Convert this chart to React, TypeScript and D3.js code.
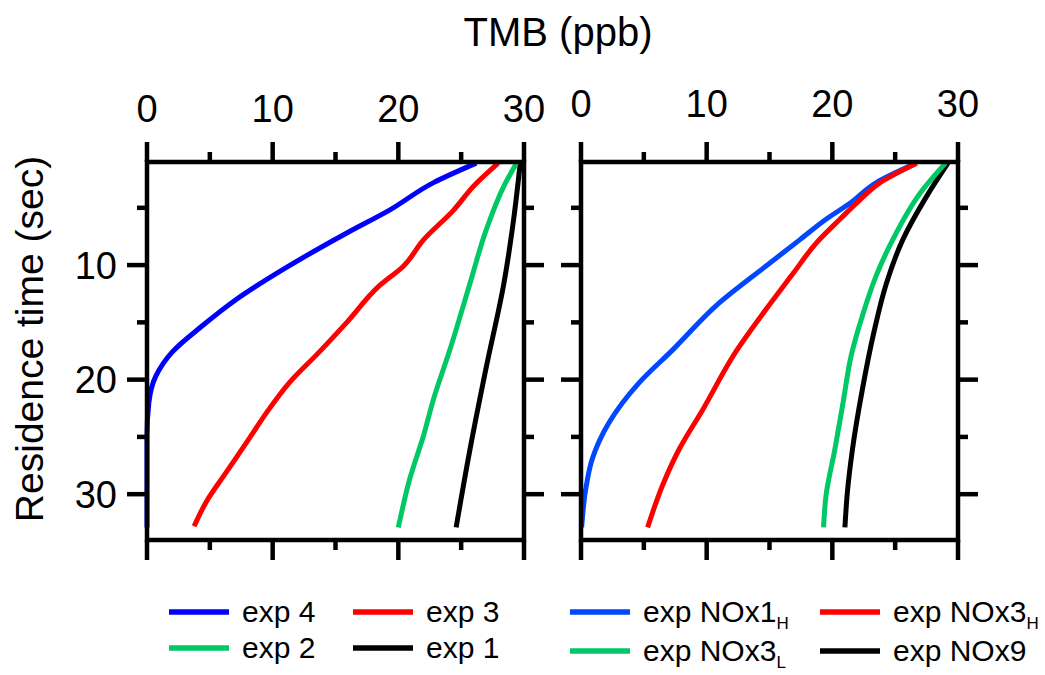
import * as d3 from 'd3';

// TMB (ppb) vs residence time (sec)
type Pt = [number, number];

const leftNames = ['exp 4', 'exp 3', 'exp 2', 'exp 1'];
const leftColors = ['#0000ff', '#ff0000', '#00c864', '#000000'];
const exp4: Pt[] = [[26.2, 1.1], [22.8, 2.8], [19.3, 5.2], [15.9, 7.2], [10.8, 10.4], [7.1, 13.0], [4.4, 15.3], [2.0, 17.6], [0.7, 19.7], [0.15, 22.0], [0, 24.9], [0, 32.9]];
const exp3: Pt[] = [[27.95, 1.1], [26.0, 3.1], [24.4, 5.2], [22.0, 7.8], [20.4, 10.1], [18.5, 11.8], [15.9, 15.0], [13.7, 17.6], [11.3, 20.3], [9.5, 22.9], [8.1, 25.2], [6.3, 28.1], [4.7, 30.7], [3.75, 32.8]];
const exp2: Pt[] = [[29.4, 1.1], [28.4, 3.1], [27.0, 6.9], [25.7, 11.6], [24.1, 17.4], [22.8, 21.7], [22.0, 24.9], [20.9, 28.7], [20.0, 32.9]];
const exp1: Pt[] = [[29.7, 1.1], [29.2, 5.8], [28.4, 11.6], [27.0, 18.9], [25.7, 26.1], [24.6, 32.9]];

const rightNames = ['exp NOx1', 'exp NOx3', 'exp NOx3', 'exp NOx9'];
const rightSubs = ['H', 'H', 'L', ''];
const rightColors = ['#0047ff', '#ff0000', '#00c864', '#000000'];
const nox1H: Pt[] = [[26.7, 1.1], [23.5, 2.8], [21.4, 4.6], [19.5, 6.0], [17.4, 7.8], [14.7, 10.1], [11.0, 13.3], [7.3, 17.4], [4.6, 20.3], [2.2, 23.8], [0.9, 26.9], [0.37, 29.6], [0.05, 32.9]];
const nox3H: Pt[] = [[26.7, 1.1], [23.8, 2.8], [22.2, 4.3], [20.6, 6.0], [18.7, 8.1], [16.9, 10.7], [14.7, 13.9], [12.3, 17.6], [9.7, 22.6], [7.8, 26.1], [6.5, 29.2], [5.3, 32.9]];
const nox3L: Pt[] = [[29.0, 1.1], [27.0, 3.7], [24.8, 7.8], [23.5, 10.9], [22.4, 14.4], [21.5, 17.9], [20.9, 21.7], [20.2, 26.1], [19.5, 30.1], [19.3, 32.9]];
const nox9: Pt[] = [[29.2, 1.1], [27.5, 4.0], [25.6, 7.8], [24.3, 11.6], [23.3, 15.9], [22.4, 20.8], [21.6, 26.1], [21.2, 29.8], [21.0, 32.9]];

const xMajor = [0, 10, 20, 30];
const xMinor = [5, 15, 25];
const yMajor = [10, 20, 30];
const yMinor = [5, 15, 25];

const W = 1045;
const H = 675;
const FONT = '"Liberation Sans", Arial, sans-serif';
const top = 162, bottom = 540;
const MAJ = 20, MIN = 10;

const y = d3.scaleLinear().domain([1, 34]).range([top, bottom]);

function Panel({ x0, x1, series, colors, order, labelY, yLabels }: {
  x0: number; x1: number; series: Pt[][]; colors: string[]; order: number[]; labelY: number; yLabels: boolean;
}) {
  const x = d3.scaleLinear().domain([0, 30]).range([x0, x1]);
  const line = d3.line<Pt>().x(d => x(d[0])).y(d => y(d[1])).curve(d3.curveMonotoneY);
  const sw = 4.5;
  return (
    <g>
      {order.map(i => (
        <path key={i} d={line(series[i]) || ''} fill="none" stroke={colors[i]} strokeWidth={5} strokeLinejoin="round" />
      ))}
      <rect x={x0} y={top} width={x1 - x0} height={bottom - top} fill="none" stroke="#000" strokeWidth={sw} />
      {xMajor.map(v => (
        <g key={'xm' + v}>
          <line x1={x(v)} x2={x(v)} y1={top} y2={top - MAJ} stroke="#000" strokeWidth={sw} />
          <line x1={x(v)} x2={x(v)} y1={bottom} y2={bottom + MAJ} stroke="#000" strokeWidth={sw} />
          <text x={x(v)} y={labelY} textAnchor="middle" fontSize={38} fontFamily={FONT}>{v}</text>
        </g>
      ))}
      {xMinor.map(v => (
        <g key={'xn' + v}>
          <line x1={x(v)} x2={x(v)} y1={top} y2={top - MIN} stroke="#000" strokeWidth={sw} />
          <line x1={x(v)} x2={x(v)} y1={bottom} y2={bottom + MIN} stroke="#000" strokeWidth={sw} />
        </g>
      ))}
      {yMajor.map(v => (
        <g key={'ym' + v}>
          <line x1={x0} x2={x0 - MAJ} y1={y(v)} y2={y(v)} stroke="#000" strokeWidth={sw} />
          <line x1={x1} x2={x1 + MAJ} y1={y(v)} y2={y(v)} stroke="#000" strokeWidth={sw} />
          {yLabels && (
            <text x={x0 - 30} y={y(v)} dy="0.36em" textAnchor="end" fontSize={38} fontFamily={FONT}>{v}</text>
          )}
        </g>
      ))}
      {yMinor.map(v => (
        <g key={'yn' + v}>
          <line x1={x0} x2={x0 - MIN} y1={y(v)} y2={y(v)} stroke="#000" strokeWidth={sw} />
          <line x1={x1} x2={x1 + MIN} y1={y(v)} y2={y(v)} stroke="#000" strokeWidth={sw} />
        </g>
      ))}
    </g>
  );
}

function Legend({ names, subs, colors, lx, rowY, colX }: {
  names: string[]; subs: string[]; colors: string[]; lx: number; rowY: number[]; colX: number[];
}) {
  return (
    <g fontFamily={FONT}>
      {names.map((n, i) => {
        const cx = lx + colX[i % 2];
        const ry = rowY[Math.floor(i / 2)];
        return (
          <g key={i}>
            <line x1={cx} x2={cx + 60} y1={ry} y2={ry} stroke={colors[i]} strokeWidth={5.5} />
            <text x={cx + 73} y={ry + 10} fontSize={30}>
              {n}
              {subs[i] && <tspan fontSize={17} dy={7}>{subs[i]}</tspan>}
            </text>
          </g>
        );
      })}
    </g>
  );
}

export default function App() {
  return (
    <div style={{ position: 'absolute', left: 0, top: 0, background: '#fff' }}>
      <svg width={W} height={H} viewBox={`0 0 ${W} ${H}`} style={{ display: 'block' }}>
        <rect width={W} height={H} fill="#fff" />
        <text x={558} y={46} textAnchor="middle" fontSize={40} fontFamily={FONT}>TMB (ppb)</text>
        <text transform="rotate(-90)" x={-339} y={43} textAnchor="middle" fontSize={39} fontFamily={FONT}>Residence time (sec)</text>
        <Panel x0={147} x1={524} series={[exp4, exp3, exp2, exp1]} colors={leftColors} order={[3, 2, 1, 0]} labelY={122} yLabels={true} />
        <Panel x0={581} x1={958} series={[nox1H, nox3H, nox3L, nox9]} colors={rightColors} order={[3, 2, 0, 1]} labelY={117} yLabels={false} />
        <Legend names={leftNames} subs={['', '', '', '']} colors={leftColors} lx={169} rowY={[612, 648]} colX={[0, 184]} />
        <Legend names={rightNames} subs={rightSubs} colors={rightColors} lx={570} rowY={[612, 651]} colX={[0, 250]} />
      </svg>
    </div>
  );
}
